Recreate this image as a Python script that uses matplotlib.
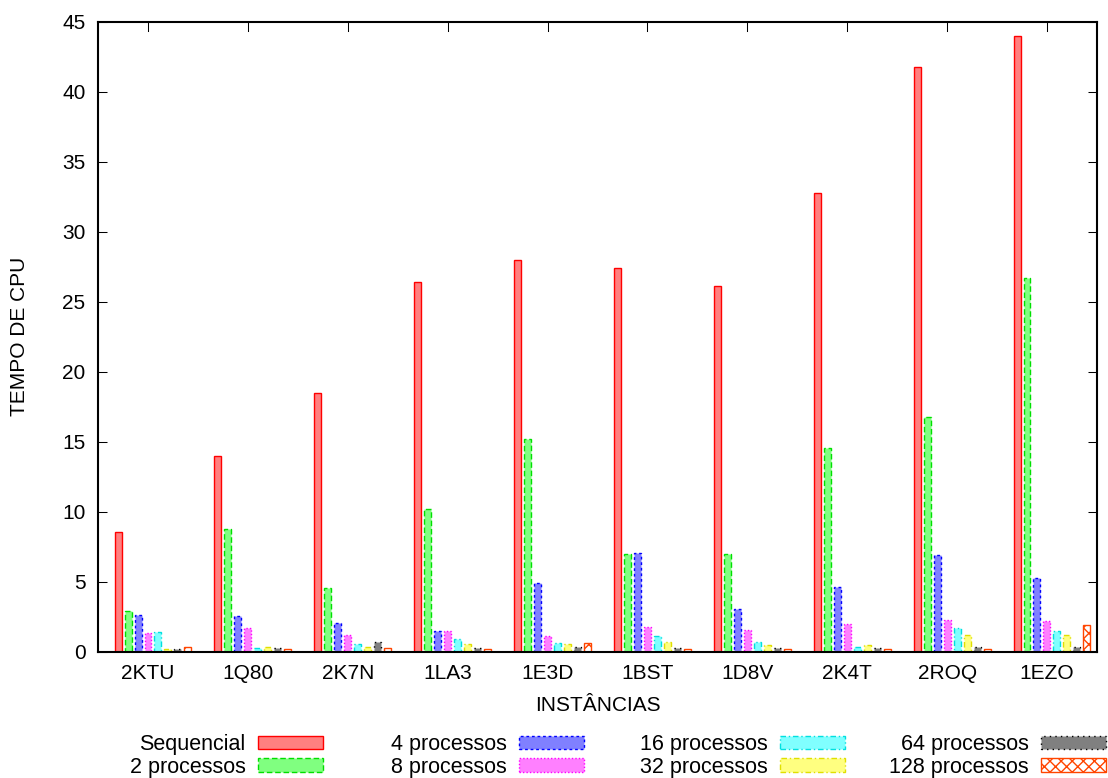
import numpy as np
import matplotlib
matplotlib.use("Agg")
from matplotlib import pyplot as plt

plt.rcParams['font.family'] = ['Liberation Sans', 'DejaVu Sans']
plt.rcParams['hatch.linewidth'] = 1.0

instancias = ['2KTU', '1Q80', '2K7N', '1LA3', '1E3D', '1BST', '1D8V', '2K4T', '2ROQ', '1EZO']

sequencial = [8.6, 14.0, 18.5, 26.4, 28.0, 27.4, 26.1, 32.8, 41.8, 44.0]
proc2 = [2.95, 8.8, 4.6, 10.2, 15.2, 7.0, 7.0, 14.6, 16.8, 26.7]
proc4 = [2.64, 2.57, 2.09, 1.5, 4.9, 7.1, 3.04, 4.64, 6.95, 5.25]
proc8 = [1.35, 1.71, 1.21, 1.5, 1.14, 1.78, 1.57, 2.0, 2.28, 2.21]
proc16 = [1.43, 0.29, 0.57, 0.95, 0.64, 1.14, 0.71, 0.36, 1.71, 1.5]
proc32 = [0.21, 0.36, 0.36, 0.57, 0.57, 0.71, 0.5, 0.5, 1.21, 1.21]
proc64 = [0.21, 0.26, 0.71, 0.29, 0.36, 0.29, 0.29, 0.29, 0.36, 0.36]
proc128 = [0.36, 0.21, 0.26, 0.21, 0.64, 0.21, 0.21, 0.21, 0.21, 1.95]

labels = ['Sequencial', '2 processos', '4 processos', '8 processos',
          '16 processos', '32 processos', '64 processos', '128 processos']
series = [sequencial, proc2, proc4, proc8, proc16, proc32, proc64, proc128]

# fill, border, linestyle, hatch
styles = [
    ('#ff8080', '#ff0000', '-', None),
    ('#80ff80', '#00e000', (0, (4, 2)), None),
    ('#8080ff', '#0000ff', (0, (2, 2)), None),
    ('#ff80ff', '#ff00ff', (0, (1, 1.5)), None),
    ('#80ffff', '#00e0e0', (0, (4, 2, 1, 2)), None),
    ('#ffff80', '#e0e000', (0, (4, 2, 1, 2)), None),
    ('#808080', '#000000', (0, (1, 3)), None),
    ('white', '#ff4500', '-', 'xxx'),
]

fig = plt.figure(figsize=(11.08, 7.78), dpi=100)
ax = fig.add_axes([0.0885, 0.162, 0.9015, 0.810])

x = np.arange(len(instancias))
width = 0.07
handles = []
for j, (vals, lab, st) in enumerate(zip(series, labels, styles)):
    fc, ec, ls, hatch = st
    b = ax.bar(x - 0.3 + 0.1 * j, vals, width, facecolor=fc, edgecolor=ec,
               linestyle=ls, linewidth=1.0, hatch=hatch, label=lab)
    handles.append(b)

ax.set_xlim(-0.5, 9.5)
ax.set_ylim(0, 45)
ax.set_yticks(np.arange(0, 46, 5))
ax.set_xticks(x)
ax.set_xticklabels(instancias)

for s in ax.spines.values():
    s.set_linewidth(1.5)
ax.tick_params(axis='y', direction='in', length=6.5, width=0.75, right=True,
               labelsize=15, pad=9)
ax.tick_params(axis='x', direction='in', length=0, top=False, labelsize=15, pad=9)
# mirrored x tics on the top border only
for xi in x:
    ax.plot([xi, xi], [45, 45 - 9 * 45 / 630.0], color='black', lw=0.75,
            clip_on=False, zorder=3)

ax.set_xlabel('INSTÂNCIAS', fontsize=15, labelpad=9)
ax.set_ylabel('TEMPO DE CPU', fontsize=15, labelpad=24)

# legend: 4 columns of 2 entries, text right-aligned before the swatch
col_right = [323, 584, 845, 1106]
for c in range(4):
    hs = handles[2 * c:2 * c + 2]
    ls_ = labels[2 * c:2 * c + 2]
    fig.legend(hs, ls_, loc='upper right',
               bbox_to_anchor=(col_right[c] / 1108.0, 1 - 734 / 778.0),
               bbox_transform=fig.transFigure, frameon=False, markerfirst=False,
               fontsize=15.5, borderpad=0, borderaxespad=0, handlelength=3.0,
               handleheight=0.6, handletextpad=0.6, labelspacing=0.08)

fig.savefig('out.png', dpi=100)
